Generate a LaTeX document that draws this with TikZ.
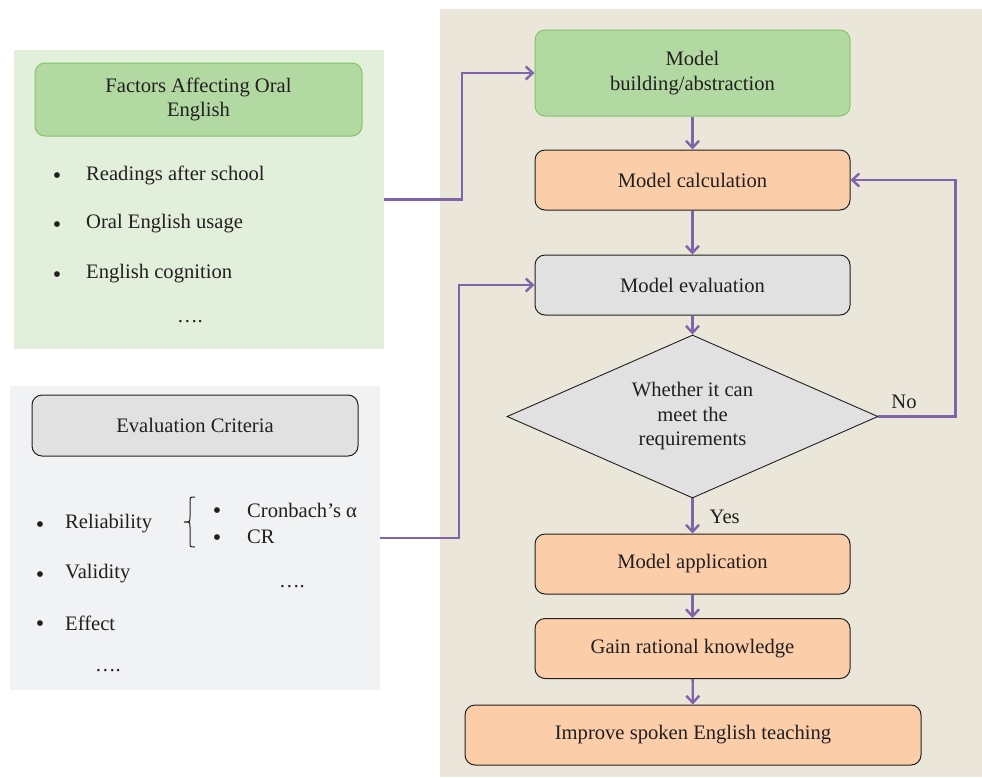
\documentclass[tikz,border=0pt]{standalone}
\usepackage{fontspec}
\setmainfont{Liberation Serif}
\usetikzlibrary{arrows.meta,shapes.geometric}
\definecolor{panelbeige}{HTML}{EAE6D9}
\definecolor{panelgreen}{HTML}{E2EFDA}
\definecolor{panelgrey}{HTML}{F1F2F4}
\definecolor{boxgreen}{HTML}{B3D9A3}
\definecolor{edgegreen}{HTML}{84C467}
\definecolor{boxorange}{HTML}{FBCDA9}
\definecolor{boxgrey}{HTML}{E0E1E0}
\definecolor{flow}{HTML}{8064A9}
\definecolor{ink}{HTML}{231F20}
\tikzset{
  panel/.style={draw=none, inner sep=0, rectangle},
  stepbox/.style={draw=ink, line width=1pt, rounded corners=10pt, minimum width=315pt,
    minimum height=60pt, inner sep=0, align=center, text=ink},
  decision/.style={diamond, draw=ink, line width=0.9pt, fill=boxgrey, aspect=2.28,
    minimum width=371pt, minimum height=163pt, inner sep=0, align=center, text=ink},
  flowarrow/.style={draw=flow, line width=2.4pt,
    -{Straight Barb[length=7pt,width=13pt,line width=2.4pt]}},
  item/.style={anchor=west, inner sep=0, text=ink},
  dot/.style={inner sep=0, text=ink, yshift=-3pt, font=\fontsize{24}{25}\selectfont},
  every node/.append style={font=\fontsize{20.6}{24.5}\selectfont}
}
\begin{document}
\begin{tikzpicture}[x=1pt,y=-1pt]
\useasboundingbox (0,0) rectangle (982,777);

% background panels
\node[panel, fill=panelbeige, minimum width=542pt, minimum height=768pt] (flowpanel) at (711,393) {};
\node[panel, fill=panelgreen, minimum width=370pt, minimum height=299pt] (factorpanel) at (199,199.5) {};
\node[panel, fill=panelgrey, minimum width=370pt, minimum height=304pt] (critpanel) at (195,538) {};

% factors
\node[stepbox, fill=boxgreen, draw=edgegreen, minimum width=327pt, minimum height=73pt] (factors) at (198.5,99.5)
  {Factors Affecting Oral\\English};
\node[dot] (fb1) at (57,175) {\textbullet};
\node[item] (f1) at (86,175) {Readings after school};
\node[dot] (fb2) at (57,224) {\textbullet};
\node[item] (f2) at (86,224) {Oral English usage};
\node[dot] (fb3) at (57,274) {\textbullet};
\node[item] (f3) at (86,274) {English cognition};
\node[inner sep=0, text=ink] (fmore) at (190,322) {\dots.};

% criteria
\node[stepbox, fill=boxgrey, minimum width=326pt, minimum height=61pt] (criteria) at (195,425.5)
  {Evaluation Criteria};
\node[dot] (cb1) at (40,524) {\textbullet};
\node[item] (c1) at (65,524) {Reliability};
\node[dot] (cb2) at (40,574) {\textbullet};
\node[item] (c2) at (65,574) {Validity};
\node[dot] (cb3) at (40,623) {\textbullet};
\node[item] (c3) at (65,623) {Effect};
\node[inner sep=0, text=ink] (cmore) at (108,671) {\dots.};
\draw[ink, line width=1pt] (195,497) .. controls (190,497) .. (190,502) -- (190,517)
  .. controls (190,522) .. (184,522) .. controls (190,522) .. (190,527) -- (190,542)
  .. controls (190,547) .. (195,547);
\node[dot] (rb1) at (217,510) {\textbullet};
\node[item] (r1) at (247,510) {Cronbach’s α};
\node[dot] (rb2) at (217,537) {\textbullet};
\node[item] (r2) at (247,537) {CR};
\node[inner sep=0, text=ink] (rmore) at (292,587) {\dots.};

% flow chart
\node[stepbox, fill=boxgreen, draw=edgegreen, minimum height=86pt] (build) at (692.5,73)
  {Model\\building/abstraction};
\node[stepbox, fill=boxorange] (calc) at (692.5,180) {Model calculation};
\node[stepbox, fill=boxgrey] (evalm) at (692.5,285) {Model evaluation};
\node[decision] (check) at (692.5,416.5) {Whether it can\\meet the\\requirements};
\node[stepbox, fill=boxorange] (apply) at (692.5,564) {Model application};
\node[stepbox, fill=boxorange] (gain) at (692.5,648.5) {Gain rational knowledge};
\node[stepbox, fill=boxorange, minimum width=456pt] (improve) at (693,735) {Improve spoken English teaching};

\draw[flowarrow] (build) -- (calc);
\draw[flowarrow] (calc) -- (evalm);
\draw[flowarrow] (evalm) -- (check);
\draw[flowarrow] (check) -- node[right, inner sep=0, xshift=16pt, yshift=-1pt, text=ink] (yes) {Yes} (apply);
\draw[flowarrow] (apply) -- (gain);
\draw[flowarrow] (gain) -- (improve);
\draw[flowarrow] (check.east) -- ++(77,0) |- (calc.east);
\node[inner sep=0, text=ink] (no) at (904,402) {No};
\draw[flowarrow] (factorpanel.east) -- ++(78,0) |- (build.west);
\draw[flowarrow] (critpanel.east) -- ++(79,0) |- (evalm.west);
\end{tikzpicture}
\end{document}
